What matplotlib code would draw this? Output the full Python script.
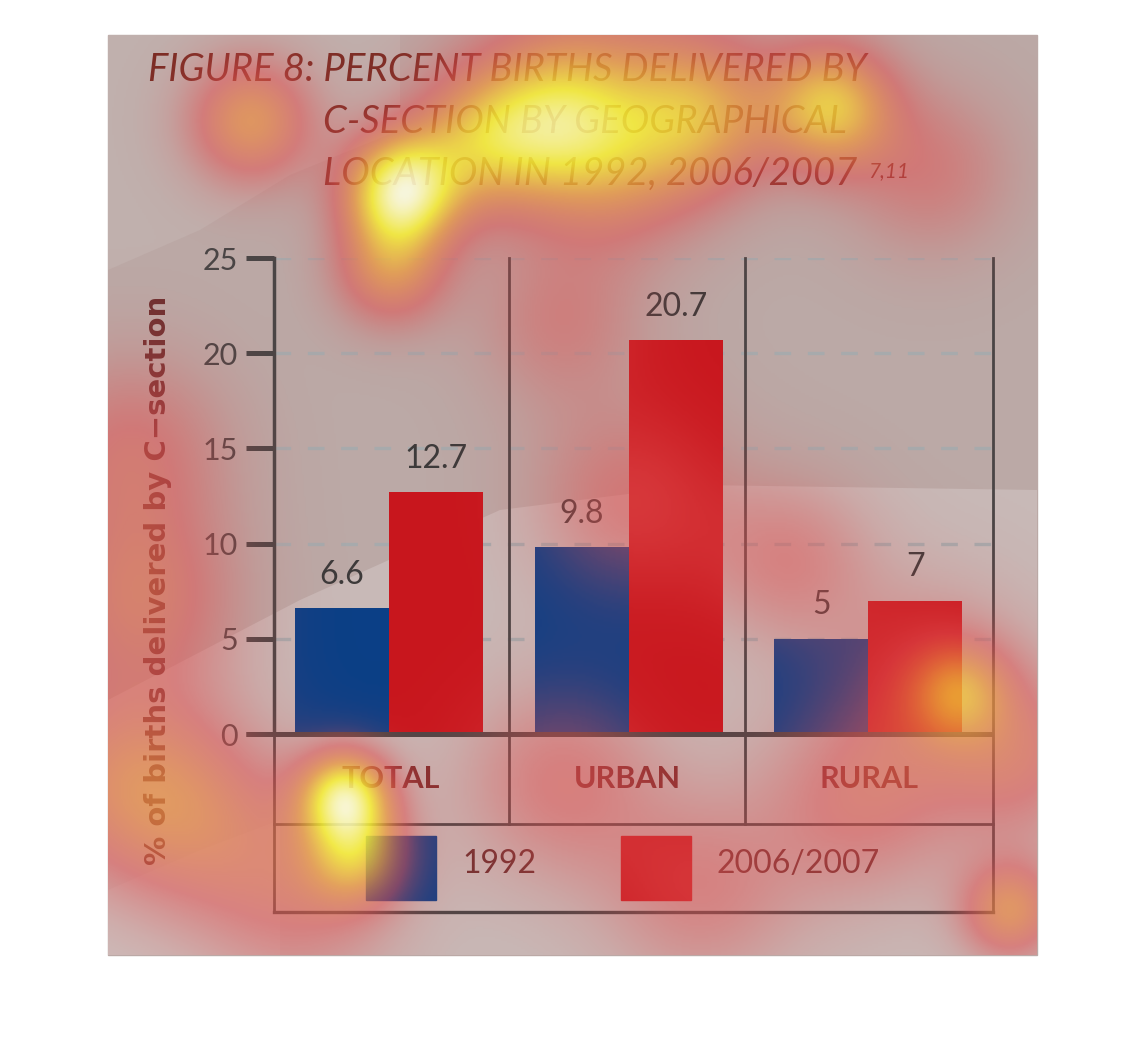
import numpy as np
import matplotlib.pyplot as plt
from matplotlib.colors import LinearSegmentedColormap
from matplotlib.patches import Rectangle, Polygon

categories = ['TOTAL', 'URBAN', 'RURAL']
series_names = ['1992', '2006/2007']
vals_1992 = [6.6, 9.8, 5]
vals_2007 = [12.7, 20.7, 7]
labels_1992 = ['6.6', '9.8', '5']
labels_2007 = ['12.7', '20.7', '7']
yticks = [0, 5, 10, 15, 20, 25]
title_lines = ['FIGURE 8: PERCENT BIRTHS DELIVERED BY',
               'C-SECTION BY GEOGRAPHICAL',
               'LOCATION IN 1992, 2006/2007']
ylabel = '% of births delivered by C\u2212section'

# eye-tracking fixations drawn as heat overlay: x px, y px, weight, spread px
fix_x = [250, 400, 390, 560, 700, 830, 480, 620, 930, 600,
         345, 355, 300, 200,
         140, 130, 120,
         630, 560, 790, 960, 930,
         560, 700, 860, 1010, 1020]
fix_y = [120, 190, 270, 120, 115, 105, 140, 170, 170, 60,
         795, 855, 900, 820,
         600, 450, 780,
         500, 320, 560, 690, 680,
         780, 890, 800, 910, 760]
fix_w = [0.45, 0.85, 0.4, 0.5, 0.45, 0.6, 0.45, 0.25, 0.22, 0.2,
         0.75, 0.45, 0.22, 0.25,
         0.3, 0.25, 0.3,
         0.25, 0.2, 0.22, 0.32, 0.2,
         0.25, 0.22, 0.25, 0.42, 0.25]
fix_s = [45, 40, 40, 55, 55, 45, 50, 60, 60, 90,
         32, 35, 70, 70,
         70, 70, 70,
         70, 60, 60, 35, 70,
         70, 70, 70, 35, 60]

W, H = 1146, 1050
fig = plt.figure(figsize=(W / 100, H / 100), dpi=100)
fig.patch.set_facecolor('white')

def px(x0, y0, w, h):
    return [x0 / W, 1 - (y0 + h) / H, w / W, h / H]

# background panel
bg = fig.add_axes([0, 0, 1, 1], zorder=0)
bg.set_xlim(0, W)
bg.set_ylim(H, 0)
bg.axis('off')
bg.add_patch(Rectangle((108, 35), 929, 920, color='#bba9a6'))
bg.add_patch(Polygon([[108, 700], [300, 600], [500, 510], [700, 485], [1037, 490],
                      [1037, 955], [108, 955]], color='#c8b9b7', lw=0))
bg.add_patch(Polygon([[108, 270], [200, 230], [290, 175], [400, 130], [400, 35], [108, 35]],
                     color='#c0b0ad', lw=0))
bg.add_patch(Polygon([[108, 890], [200, 850], [280, 820], [280, 955], [108, 955]],
                     color='#ccbebc', lw=0))

# bars
ax = fig.add_axes(px(274, 258, 719, 476), zorder=2)
ax.patch.set_alpha(0)
x = np.arange(len(categories)) + 0.48
bw = 0.392
b1 = ax.bar(x - bw / 2, vals_1992, bw, color='#0b3f86', zorder=3)
b2 = ax.bar(x + bw / 2, vals_2007, bw, color='#c8161d', zorder=3)
for bars, labs in ((b1, labels_1992), (b2, labels_2007)):
    for b, t in zip(bars, labs):
        ax.annotate(t, (b.get_x() + b.get_width() / 2, b.get_height()),
                    xytext=(0, 24), textcoords='offset points', ha='center', va='center',
                    fontsize=23, color='#3d3a3a', family='Lato')
ax.set_xlim(0, 3)
ax.set_ylim(0, 25)
ax.set_yticks(yticks)
ax.set_yticklabels([str(v) for v in yticks], family='Lato')
ax.set_xticks([])
ax.tick_params(axis='y', direction='out', length=20, width=3.6, color='#4a4545',
               labelsize=22, labelcolor='#4a4545', pad=6)
for s in ['top', 'right', 'bottom']:
    ax.spines[s].set_visible(False)
ax.spines['left'].set_linewidth(2.5)
ax.spines['left'].set_color('#4a4545')
ax.yaxis.grid(True, linestyle=(0, (5, 5)), linewidth=2.4, color='#a7aaac', zorder=1)
ax.set_axisbelow(True)

# frame, category row, legend, title, heat
ov = fig.add_axes([0, 0, 1, 1], zorder=4)
ov.set_xlim(0, W)
ov.set_ylim(H, 0)
ov.axis('off')
ov.text(158, 580, ylabel, rotation=90, ha='center', va='center', fontsize=21,
        fontweight='bold', color='#6e3030', family='DejaVu Sans')
lc = '#4a4545'
ov.plot([246, 993], [734, 734], color=lc, lw=3.6, solid_capstyle='butt')
ov.plot([274, 274], [734, 912], color=lc, lw=2)
ov.plot([993, 993], [258, 912], color=lc, lw=2)
ov.plot([509, 509], [258, 824], color=lc, lw=2)
ov.plot([745, 745], [258, 824], color=lc, lw=2)
ov.plot([274, 993], [824, 824], color=lc, lw=2)
ov.plot([274, 993], [912, 912], color=lc, lw=2.4)
for cx, c in zip([391, 627, 869], categories):
    ov.text(cx, 779, c, ha='center', va='center', fontsize=22, fontweight='bold',
            color='#7e2c2c', family='Lato')
ov.add_patch(Rectangle((366, 836), 70, 64, color='#0b3f86'))
ov.add_patch(Rectangle((621, 836), 70, 64, color='#c8161d'))
ov.text(462, 864, series_names[0], ha='left', va='center', fontsize=23, color='#6e3030', family='Lato')
ov.text(717, 864, series_names[1], ha='left', va='center', fontsize=23, color='#6e3030', family='Lato')

tc = '#7a2c24'
tkw = dict(ha='left', va='center', fontsize=27.5, style='italic', color=tc, family='Lato')
ov.text(148, 70, title_lines[0], **tkw)
ov.text(323, 122, title_lines[1], **tkw)
t3 = ov.text(323, 174, title_lines[2], **tkw)
ov.annotate('7,11', xy=(1, 1), xycoords=t3, xytext=(8, -4), textcoords='offset points',
            ha='left', va='top', fontsize=15, style='italic', color=tc, family='Lato')

gx, gy = np.meshgrid(np.arange(108, 1037, 2.0), np.arange(35, 955, 2.0))
dens = np.zeros_like(gx)
for fx, fy, fw, fs in zip(fix_x, fix_y, fix_w, fix_s):
    dens += fw * np.exp(-((gx - fx) ** 2 + (gy - fy) ** 2) / (2 * fs ** 2))
dens = np.clip(dens, 0, 1)
heat = LinearSegmentedColormap.from_list('heat', [
    (0.0, (0.88, 0.3, 0.3, 0.0)),
    (0.08, (0.88, 0.3, 0.3, 0.15)),
    (0.25, (0.89, 0.32, 0.32, 0.55)),
    (0.5, (0.93, 0.6, 0.25, 0.75)),
    (0.75, (0.98, 0.95, 0.2, 0.85)),
    (1.0, (1.0, 1.0, 0.9, 0.9)),
])
ov.imshow(dens, cmap=heat, vmin=0, vmax=1, extent=(108, 1037, 955, 35),
          interpolation='bilinear', zorder=10, aspect='auto')

fig.savefig('out.png', dpi=100, facecolor='white')
